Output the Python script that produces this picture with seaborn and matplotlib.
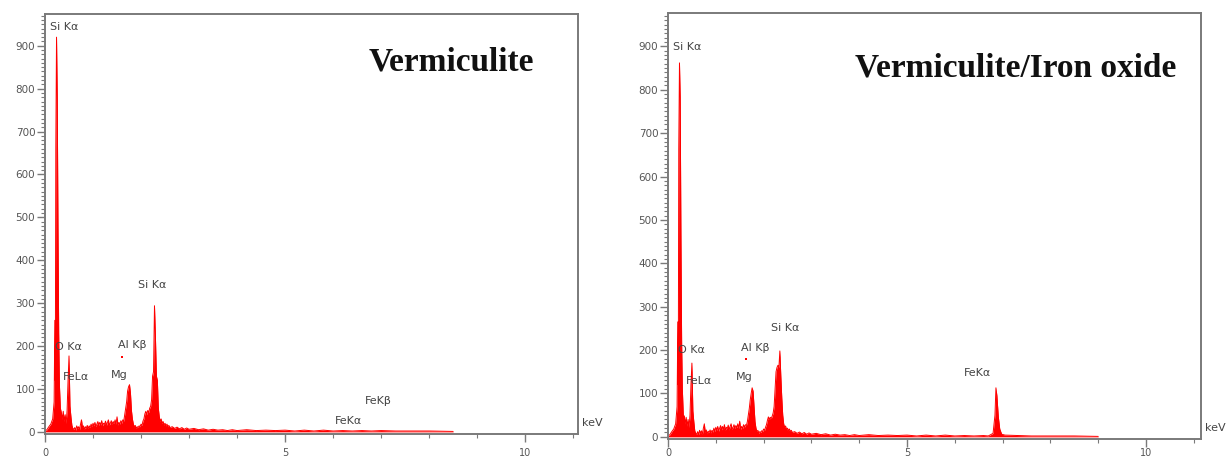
import numpy as np
import matplotlib
matplotlib.use("Agg")
import matplotlib.pyplot as plt
import seaborn as sns
from matplotlib.ticker import MultipleLocator

sns.set_theme(style="white")
plt.rcParams['font.family'] = ['DejaVu Sans']

# ---------------- data ----------------
# Vermiculite spectrum: energy (keV) / counts
verm_energy = [0.00, 0.04, 0.08, 0.12, 0.16, 0.19, 0.205, 0.215, 0.225, 0.24, 0.255, 0.27, 0.285,
               0.30, 0.32, 0.34, 0.36, 0.38, 0.40, 0.42, 0.44, 0.46, 0.48, 0.50, 0.52, 0.54, 0.56, 0.58,
               0.60, 0.62, 0.64, 0.66, 0.68, 0.70, 0.72, 0.74, 0.76, 0.78, 0.80, 0.82, 0.84, 0.86, 0.88,
               0.90, 0.92, 0.94, 0.96, 0.98, 1.00, 1.02, 1.04, 1.06, 1.08, 1.10, 1.12, 1.14, 1.16, 1.18,
               1.20, 1.22, 1.24, 1.26, 1.28, 1.30, 1.32, 1.34, 1.36, 1.38, 1.40, 1.42, 1.44, 1.46, 1.48,
               1.50, 1.52, 1.54, 1.56, 1.58, 1.60,
               1.62, 1.64, 1.66, 1.68, 1.70, 1.72, 1.74, 1.76, 1.78, 1.80, 1.82, 1.84, 1.86, 1.88,
               1.90, 1.92, 1.94, 1.96, 1.98, 2.00, 2.02, 2.04, 2.06, 2.08, 2.10, 2.12, 2.14, 2.16, 2.18,
               2.20, 2.22, 2.24, 2.26, 2.28, 2.30, 2.32, 2.34, 2.36, 2.38, 2.40, 2.42, 2.44, 2.46, 2.48,
               2.50, 2.52, 2.54, 2.56, 2.58, 2.60,
               2.65, 2.70, 2.75, 2.80, 2.85, 2.90, 2.95, 3.00, 3.10, 3.20, 3.30, 3.40, 3.50, 3.60,
               3.70, 3.80, 3.90, 4.00, 4.20, 4.40, 4.60, 4.80, 5.00, 5.20, 5.40, 5.60, 5.80, 6.00,
               6.20, 6.40, 6.60, 6.80, 7.00, 7.30, 7.60, 8.00, 8.50]
verm_counts = [2, 5, 12, 18, 30, 70, 260, 120, 660, 920, 780, 480, 230,
               110, 55, 45, 30, 48, 25, 40, 20, 50, 120, 177, 60, 35, 15, 8,
               6, 10, 4, 14, 8, 12, 5, 18, 28, 10, 14, 6, 12, 9, 15,
               8, 14, 10, 18, 12, 20, 14, 22, 12, 18, 24, 15, 22, 16, 26,
               14, 20, 18, 25, 15, 22, 28, 16, 20, 26, 18, 24, 20, 28, 18,
               35, 16, 22, 18, 26, 20,
               28, 25, 40, 55, 70, 95, 105, 110, 90, 50, 30, 18, 12, 15,
               8, 12, 10, 14, 12, 18, 15, 25, 30, 42, 48, 40, 50, 45, 55,
               60, 75, 130, 140, 294, 220, 130, 120, 55, 35, 25, 30, 20, 24, 16,
               20, 14, 18, 12, 15, 10,
               12, 8, 11, 7, 10, 6, 9, 6, 8, 5, 7, 4, 6, 4,
               5, 3, 5, 3, 5, 3, 4, 3, 4, 2, 4, 2, 4, 2,
               3, 2, 3, 2, 3, 2, 2, 2, 1]

# Vermiculite/Iron oxide spectrum: energy (keV) / counts
vio_energy = [0.00, 0.04, 0.08, 0.12, 0.16, 0.19, 0.205, 0.215, 0.225, 0.24, 0.255, 0.27, 0.285,
              0.30, 0.32, 0.34, 0.36, 0.38, 0.40, 0.42, 0.44, 0.46, 0.48, 0.50, 0.52, 0.54, 0.56, 0.58,
              0.60, 0.62, 0.64, 0.66, 0.68, 0.70, 0.72, 0.74, 0.76, 0.78, 0.80, 0.82, 0.84, 0.86, 0.88,
              0.90, 0.92, 0.94, 0.96, 0.98, 1.00, 1.02, 1.04, 1.06, 1.08, 1.10, 1.12, 1.14, 1.16, 1.18,
              1.20, 1.22, 1.24, 1.26, 1.28, 1.30, 1.32, 1.34, 1.36, 1.38, 1.40, 1.42, 1.44, 1.46, 1.48,
              1.50, 1.52, 1.54, 1.56, 1.58, 1.60,
              1.62, 1.64, 1.66, 1.68, 1.70, 1.72, 1.74, 1.76, 1.78, 1.80, 1.82, 1.84, 1.86, 1.88,
              1.90, 1.92, 1.94, 1.96, 1.98, 2.00, 2.02, 2.04, 2.06, 2.08, 2.10, 2.12, 2.14, 2.16, 2.18,
              2.20, 2.22, 2.24, 2.26, 2.28, 2.30, 2.32, 2.34, 2.36, 2.38, 2.40, 2.42, 2.44, 2.46, 2.48,
              2.50, 2.52, 2.54, 2.56, 2.58, 2.60,
              2.65, 2.70, 2.75, 2.80, 2.85, 2.90, 2.95, 3.00, 3.10, 3.20, 3.30, 3.40, 3.50, 3.60,
              3.70, 3.80, 3.90, 4.00, 4.20, 4.40, 4.60, 4.80, 5.00, 5.20, 5.40, 5.60, 5.80, 6.00,
              6.20, 6.40, 6.60, 6.70, 6.80, 6.84, 6.86, 6.88, 6.91, 6.94, 6.98, 7.05, 7.30, 7.60,
              8.00, 8.50, 9.00]
vio_counts = [2, 5, 12, 18, 30, 70, 265, 120, 663, 862, 783, 470, 220,
              110, 50, 48, 30, 45, 25, 40, 22, 50, 120, 170, 60, 35, 14, 8,
              6, 12, 5, 15, 8, 14, 6, 20, 30, 10, 16, 7, 13, 10, 16,
              9, 15, 11, 20, 12, 22, 15, 24, 13, 20, 26, 16, 24, 17, 28,
              15, 22, 19, 27, 16, 24, 30, 17, 22, 28, 19, 26, 21, 30, 19,
              36, 17, 24, 19, 28, 22,
              28, 26, 35, 50, 65, 85, 100, 113, 105, 70, 35, 20, 12, 15,
              8, 12, 10, 14, 12, 18, 15, 22, 28, 38, 46, 40, 45, 42, 48,
              55, 70, 110, 150, 160, 165, 160, 198, 140, 90, 50, 30, 22, 25, 16,
              20, 14, 18, 12, 15, 10,
              12, 8, 11, 7, 10, 6, 9, 6, 8, 5, 7, 4, 6, 4,
              5, 3, 5, 3, 5, 3, 4, 3, 4, 2, 4, 2, 4, 2,
              3, 2, 3, 2, 8, 50, 113, 95, 46, 18, 6, 4, 3, 2,
              2, 2, 1]

assert len(verm_energy) == len(verm_counts)
assert len(vio_energy) == len(vio_counts)

verm_labels = ["Si K\u03b1", "O K\u03b1", "FeL\u03b1", "Al K\u03b2", "Mg", "Si K\u03b1", "FeK\u03b2", "FeK\u03b1"]
verm_label_x = [0.10, 0.21, 0.38, 1.52, 1.38, 1.94, 6.67, 6.04]
verm_label_y = [944, 198, 128, 202, 133, 343, 72, 25]

vio_labels = ["Si K\u03b1", "O K\u03b1", "FeL\u03b1", "Al K\u03b2", "Mg", "Si K\u03b1", "FeK\u03b1"]
vio_label_x = [0.10, 0.21, 0.38, 1.52, 1.42, 2.16, 6.18]
vio_label_y = [899, 200, 129, 205, 138, 251, 147]

# tiny red marker under the "Al Kβ" label
verm_mark_x, verm_mark_y = [1.60], [175]
vio_mark_x, vio_mark_y = [1.63], [180]

titles = ["Vermiculite", "Vermiculite/Iron oxide"]
y_ticks = [0, 100, 200, 300, 400, 500, 600, 700, 800, 900]
x_ticks = [0, 5, 10]

# ---------------- figure ----------------
fig = plt.figure(figsize=(12.26, 4.58), dpi=100)
ax1 = fig.add_axes([45 / 1226, 1 - 434 / 458, 533 / 1226, 420 / 458])
ax2 = fig.add_axes([668 / 1226, 1 - 439 / 458, 533 / 1226, 426 / 458])

panels = [
    (ax1, verm_energy, verm_counts, verm_labels, verm_label_x, verm_label_y, titles[0],
     (0, 11.1), (-5, 974), (0.762, 0.886), verm_mark_x, verm_mark_y, 4),
    (ax2, vio_energy, vio_counts, vio_labels, vio_label_x, vio_label_y, titles[1],
     (0, 11.15), (-5, 977), (0.653, 0.871), vio_mark_x, vio_mark_y, 0.5),
]

red = "#ff0000"
spine_col = "#7a7a7a"
tick_col = "#555555"

for ax, en, ct, labs, lx, ly, title, xl, yl, tpos, mx, my, xpad in panels:
    sns.lineplot(x=en, y=ct, ax=ax, color=red, linewidth=0.7, estimator=None, sort=False)
    ax.fill_between(en, 0, ct, color=red, linewidth=0)
    sns.scatterplot(x=mx, y=my, ax=ax, color=red, s=3, linewidth=0, marker="s")
    ax.set_xlim(*xl)
    ax.set_ylim(*yl)
    ax.set_xticks(x_ticks)
    ax.set_yticks(y_ticks)
    ax.xaxis.set_minor_locator(MultipleLocator(1))
    ax.yaxis.set_minor_locator(MultipleLocator(10))
    ax.tick_params(axis="both", which="major", direction="out", length=6, width=1,
                   color=spine_col, labelsize=7.5, labelcolor=tick_col, pad=1,
                   bottom=True, left=True)
    ax.tick_params(axis="x", which="major", pad=xpad, labelsize=7)
    ax.tick_params(axis="both", which="minor", direction="out", length=3, width=0.8,
                   color=spine_col, bottom=True, left=True)
    for s in ax.spines.values():
        s.set_color(spine_col)
        s.set_linewidth(1.4)
        s.set_visible(True)
    ax.set_xlabel("")
    ax.set_ylabel("")
    ax.grid(False)
    for t, x, y in zip(labs, lx, ly):
        ax.text(x, y, t, fontsize=8, color="#444444", ha="left", va="center")
    ax.text(1.008, 0.025, "keV", transform=ax.transAxes, fontsize=8, color="#444444",
            ha="left", va="center")
    ax.text(tpos[0], tpos[1], title, transform=ax.transAxes, ha="center", va="center",
            fontsize=24, fontweight="bold", family=["Liberation Serif"], color="#111111")

fig.savefig("out.png", dpi=100)
